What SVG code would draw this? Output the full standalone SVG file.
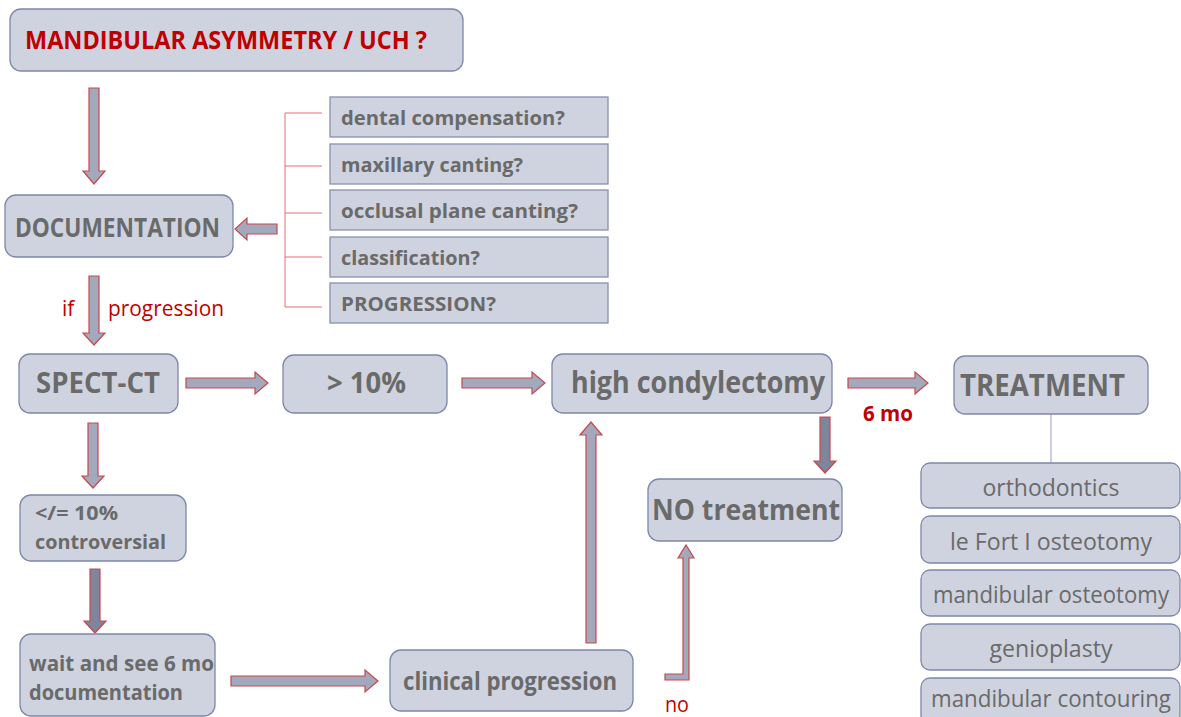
<svg xmlns="http://www.w3.org/2000/svg" width="1181" height="717" viewBox="0 0 1181 717">
<style>
.box{fill:#cfd3df;stroke:#7f87ab;stroke-width:1.3}
.sq{fill:#cfd3df;stroke:#8a90b0;stroke-width:1.3}
.t{font-family:"Open Sans","Liberation Sans",sans-serif;fill:#6a6a6a;font-weight:bold}
.n{font-family:"Open Sans","Liberation Sans",sans-serif;fill:#6a6a6a}
.red{font-family:"Open Sans","Liberation Sans",sans-serif;fill:#c00000}
.arr{fill:#a3a9bd;stroke:#c9484a;stroke-width:1.2}
.dark{fill:#7e859c;stroke:#c9484a;stroke-width:1.2}
.br{stroke:#e07070;stroke-width:1;fill:none}
</style>
<rect width="1181" height="717" fill="#ffffff"/>
<g id="connectors">
<polygon class="arr" points="89,88 99,88 99,171 105,171 94,184 83,171 89,171"/>
<polygon class="arr" points="277,224 247,224 247,218 235,229 247,240 247,234 277,234"/>
<path class="br" d="M322,113 H285 V307 H322 M285,166 H322 M285,213 H322 M285,257 H322"/>
<polygon class="arr" points="89,276 99,276 99,333 105,333 94,345 83,333 89,333"/>
<polygon class="arr" points="186,378 255,378 255,372 268,383 255,394 255,388 186,388"/>
<polygon class="arr" points="462,378 532,378 532,372 545,383 532,394 532,388 462,388"/>
<polygon class="arr" points="848,378 915,378 915,372 928,383 915,394 915,388 848,388"/>
<line x1="1051" y1="414" x2="1051" y2="463" stroke="#9aa0c0" stroke-width="1"/>
<polygon class="arr" points="88,423 98,423 98,476 104,476 93,488 82,476 88,476"/>
<polygon class="dark" points="820,417 830,417 830,461 836,461 825,473 814,461 820,461"/>
<polygon class="dark" points="90,569 100,569 100,621 106,621 95,633 84,621 90,621"/>
<polygon class="arr" points="231,676 365,676 365,670 378,681 365,692 365,686 231,686"/>
<polygon class="arr" points="586,643 596,643 596,435 602,435 591,422 580,435 586,435"/>
<polygon class="arr" points="665,674 683,674 683,558 678,558 686,545 694,558 689,558 689,680 665,680"/>
</g>
<g id="n-title"><rect class="box" x="10" y="9" width="453" height="62" rx="11"/><text class="red" font-weight="bold" font-size="25" x="25" y="49" textLength="402" lengthAdjust="spacingAndGlyphs">MANDIBULAR ASYMMETRY / UCH ?</text></g>
<g id="n-doc"><rect class="box" x="5" y="195" width="228" height="62" rx="11"/><text class="t" font-size="27" x="15" y="237" textLength="205" lengthAdjust="spacingAndGlyphs">DOCUMENTATION</text></g>
<g id="n-dental"><rect class="sq" x="330" y="97" width="278" height="40"/><text class="t" font-size="20" x="341" y="125" textLength="224" lengthAdjust="spacingAndGlyphs">dental compensation?</text></g>
<g id="n-max"><rect class="sq" x="330" y="144" width="278" height="40"/><text class="t" font-size="20" x="341" y="172" textLength="182" lengthAdjust="spacingAndGlyphs">maxillary canting?</text></g>
<g id="n-occ"><rect class="sq" x="330" y="190" width="278" height="40"/><text class="t" font-size="20" x="341" y="218" textLength="237" lengthAdjust="spacingAndGlyphs">occlusal plane canting?</text></g>
<g id="n-class"><rect class="sq" x="330" y="237" width="278" height="40"/><text class="t" font-size="20" x="341" y="265" textLength="139" lengthAdjust="spacingAndGlyphs">classification?</text></g>
<g id="n-prog"><rect class="sq" x="330" y="283" width="278" height="40"/><text class="t" font-size="20" x="341" y="311" textLength="155" lengthAdjust="spacingAndGlyphs">PROGRESSION?</text></g>
<text class="red" font-size="21" x="62" y="316">if</text>
<text class="red" font-size="21" x="108" y="316" textLength="116" lengthAdjust="spacingAndGlyphs">progression</text>
<g id="n-spect"><rect class="box" x="19" y="354" width="159" height="59" rx="11"/><text class="t" font-size="29" x="36" y="393" textLength="124" lengthAdjust="spacingAndGlyphs">SPECT-CT</text></g>
<g id="n-gt10"><rect class="box" x="283" y="355" width="164" height="58" rx="11"/><text class="t" font-size="29" x="327" y="393" textLength="79" lengthAdjust="spacingAndGlyphs">&gt; 10%</text></g>
<g id="n-high"><rect class="box" x="552" y="354" width="280" height="59" rx="11"/><text class="t" font-size="30" x="571" y="393" textLength="254" lengthAdjust="spacingAndGlyphs">high condylectomy</text></g>
<text class="red" font-weight="bold" font-size="21" x="863" y="421" textLength="50" lengthAdjust="spacingAndGlyphs">6 mo</text>
<g id="n-treat"><rect class="box" x="954" y="356" width="194" height="58" rx="11"/><text class="t" font-size="30" x="960" y="396" textLength="165" lengthAdjust="spacingAndGlyphs">TREATMENT</text></g>
<g id="n-ortho"><rect class="box" x="921" y="463" width="259" height="45" rx="9"/><text class="n" font-size="24" x="1051" y="496" text-anchor="middle" textLength="137" lengthAdjust="spacingAndGlyphs">orthodontics</text></g>
<g id="n-lefort"><rect class="box" x="921" y="516" width="259" height="47" rx="9"/><text class="n" font-size="24" x="1051" y="550" text-anchor="middle" textLength="202" lengthAdjust="spacingAndGlyphs">le Fort I osteotomy</text></g>
<g id="n-mandost"><rect class="box" x="921" y="570" width="259" height="46" rx="9"/><text class="n" font-size="23" x="1051" y="603" text-anchor="middle" textLength="236" lengthAdjust="spacingAndGlyphs">mandibular osteotomy</text></g>
<g id="n-genio"><rect class="box" x="921" y="624" width="259" height="46" rx="9"/><text class="n" font-size="24" x="1051" y="657" text-anchor="middle" textLength="123" lengthAdjust="spacingAndGlyphs">genioplasty</text></g>
<g id="n-contour"><rect class="box" x="921" y="678" width="259" height="46" rx="9"/><text class="n" font-size="23" x="1051" y="707" text-anchor="middle" textLength="240" lengthAdjust="spacingAndGlyphs">mandibular contouring</text></g>
<g id="n-notreat"><rect class="box" x="648" y="479" width="194" height="62" rx="11"/><text class="t" font-size="29" x="652" y="520" textLength="188" lengthAdjust="spacingAndGlyphs">NO treatment</text></g>
<g id="n-le10"><rect class="box" x="20" y="495" width="166" height="66" rx="11"/><text class="t" font-size="20" x="35" y="520" textLength="83" lengthAdjust="spacingAndGlyphs">&lt;/= 10%</text><text class="t" font-size="20" x="35" y="549" textLength="131" lengthAdjust="spacingAndGlyphs">controversial</text></g>
<g id="n-wait"><rect class="box" x="20" y="634" width="195" height="82" rx="11"/><text class="t" font-size="22" x="29" y="671" textLength="185" lengthAdjust="spacingAndGlyphs">wait and see 6 mo</text><text class="t" font-size="22" x="29" y="700" textLength="154" lengthAdjust="spacingAndGlyphs">documentation</text></g>
<g id="n-clin"><rect class="box" x="390" y="650" width="243" height="61" rx="11"/><text class="t" font-size="25" x="403" y="690" textLength="214" lengthAdjust="spacingAndGlyphs">clinical progression</text></g>
<text class="red" font-size="21" x="665" y="712" textLength="24" lengthAdjust="spacingAndGlyphs">no</text>
</svg>
